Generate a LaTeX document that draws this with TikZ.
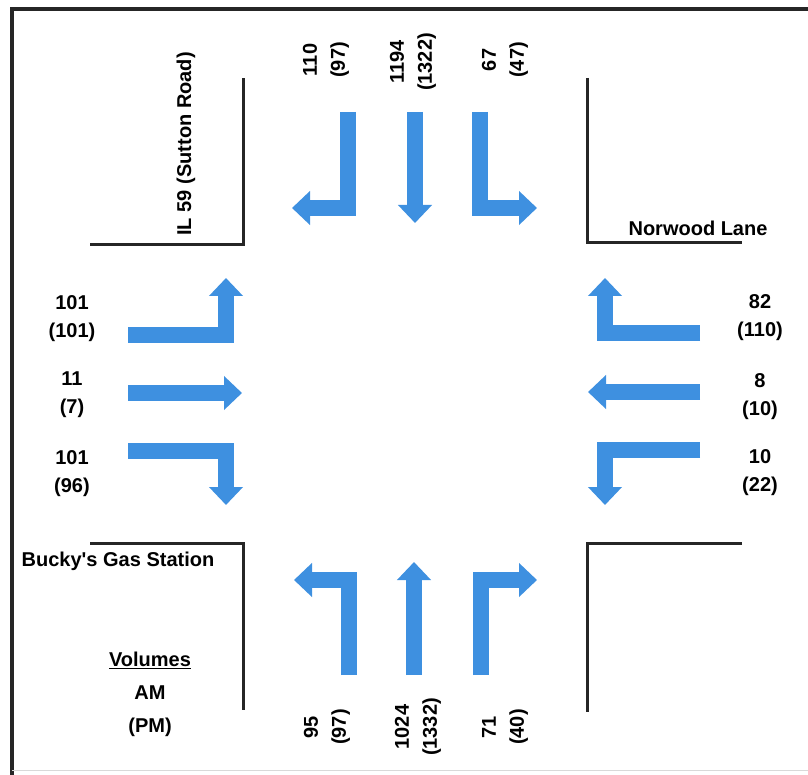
\documentclass[tikz,border=0pt]{standalone}
\usepackage{fontspec}
\setmainfont{Liberation Sans}
\usetikzlibrary{arrows.meta}
\definecolor{lanecolor}{RGB}{62,144,224}
\tikzset{
  lane/.style={line width=16pt, draw=lanecolor, line join=miter,
               -{Triangle[length=18pt 0 0, width=33pt 0 0]}},
  curb/.style={line width=3pt, draw=black!85},
  vol/.style={align=center, font=\fontsize{20}{28}\selectfont\bfseries},
  vvol/.style={vol, rotate=90},
  street/.style={font=\fontsize{20}{24}\selectfont\bfseries},
}

\begin{document}
\begin{tikzpicture}[x=1pt, y=-1pt, inner sep=0pt]
\useasboundingbox (0,0) rectangle (808,775);

% frame
\draw[line width=3.5pt, black!85] (12,775) -- (12,9) -- (808,9);
\draw[line width=1pt, black!15] (12,770) -- (808,770);

% curbs
\draw[curb] (90,245) -- (243,245) -- (243,78);
\draw[curb] (587,78) -- (587,243) -- (742,243);
\draw[curb] (90,543) -- (243,543) -- (243,710);
\draw[curb] (742,543) -- (587,543) -- (587,712);

% streets
\node[street, rotate=90] (sutton) at (186,144) {IL 59 (Sutton Road)};
\node[street] (norwood) at (698,228) {Norwood Lane};
\node[street] (bucky) at (118,561) {Bucky\textquotesingle s Gas Station};

% southbound
\draw[lane] (348,112) |- (292,208);
\draw[lane] (415,112) -- (415,223);
\draw[lane] (480,112) |- (537,208);
\node[vvol] (sbl) at (326,60) {110\\(97)};
\node[vvol] (sbt) at (413,62) {1194\\(1322)};
\node[vvol] (sbr) at (505,60) {67\\(47)};

% eastbound
\draw[lane] (128,335) -| (226,278);
\draw[lane] (128,393) -- (242,393);
\draw[lane] (128,451) -| (226,505);
\node[vol] (ebl) at (72,319) {101\\(101)};
\node[vol] (ebt) at (72,395) {11\\(7)};
\node[vol] (ebr) at (72,474) {101\\(96)};

% westbound
\draw[lane] (700,333) -| (605,278);
\draw[lane] (700,392) -- (588,392);
\draw[lane] (700,450) -| (605,505);
\node[vol] (wbr) at (760,318) {82\\(110)};
\node[vol] (wbt) at (760,397) {8\\(10)};
\node[vol] (wbl) at (760,473) {10\\(22)};

% northbound
\draw[lane] (349,675) |- (294,580);
\draw[lane] (414,675) -- (414,562);
\draw[lane] (481,675) |- (537,580);
\node[vvol] (nbl) at (327,727) {95\\(97)};
\node[vvol] (nbt) at (418,727) {1024\\(1332)};
\node[vvol] (nbr) at (505,727) {71\\(40)};

% legend
\node[vol, font=\fontsize{20}{33}\selectfont\bfseries] (legend) at (150,694)
  {\underline{Volumes}\\AM\\(PM)};
\end{tikzpicture}
\end{document}
